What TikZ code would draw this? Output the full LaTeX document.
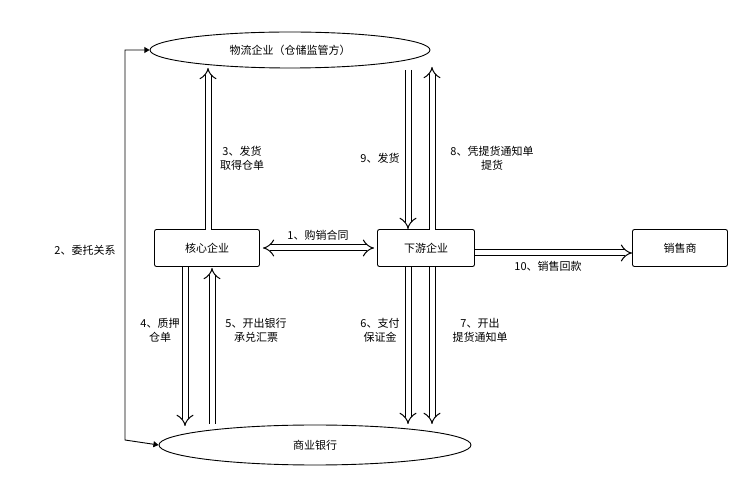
\documentclass[tikz,border=0pt]{standalone}
\usepackage{fontspec}
\setmainfont{Noto Sans CJK SC}
\usetikzlibrary{arrows.meta,shapes.geometric}
\tikzset{
  party/.style={draw, rounded corners=2pt, minimum width=105pt, minimum height=37pt, line width=0.9pt},
  oval/.style={draw, ellipse, line width=0.9pt},
  flow/.style={double, double distance=5pt, line width=1pt, -{Implies}},
  note/.style={align=center, font=\fontsize{11}{14}\selectfont}
}
\begin{document}
\begin{tikzpicture}[x=1pt, y=-1pt, font=\fontsize{11}{14}\selectfont]
\useasboundingbox (0,0) rectangle (756,494);
\node[oval, minimum width=280pt, minimum height=36pt] (wl) at (290,50) {物流企业（仓储监管方）};
\node[oval, minimum width=312pt, minimum height=40pt] (yh) at (315,445) {商业银行};
\node[party] (hx) at (207,248) {核心企业};
\node[party, minimum width=97pt] (xy) at (426,248) {下游企业};
\node[party, minimum width=95pt] (xs) at (680,248) {销售商};

\coordinate (a3) at (208,68);
\draw[flow] (208,230) -- (a3);
\node[note] at (242,158) {3、发货\\取得仓单};

\draw[flow, {Implies}-{Implies}] (hx.east) ++(3,0) -- ([xshift=-3pt]xy.west);
\node[note] at (318,235) {1、购销合同};

\draw[flow] (408,70) -- (408,229);
\node[note] at (380,158) {9、发货};
\draw[flow] (432,230) -- (432,67);
\node[note] at (492,158) {8、凭提货通知单\\提货};

\draw[flow] ([yshift=-5pt]xy.east) -- ([yshift=-5pt]xs.west);
\node[note] at (548,266) {10、销售回款};

\draw[flow] (185,267) -- (185,426);
\node[note] at (160,330) {4、质押\\仓单};
\draw[flow] (212,424) -- (212,268);
\node[note] at (256,330) {5、开出银行\\承兑汇票};
\draw[flow] (408,267) -- (408,424);
\node[note] at (380,330) {6、支付\\保证金};
\draw[flow] (432,267) -- (432,424);
\node[note] at (480,330) {7、开出\\提货通知单};

\draw[line width=0.9pt, {Triangle[]}-{Triangle[]}] (wl.west) -- (125,50) -- (125,440) -- (yh.west);
\node[note] at (85,250) {2、委托关系};
\end{tikzpicture}
\end{document}
